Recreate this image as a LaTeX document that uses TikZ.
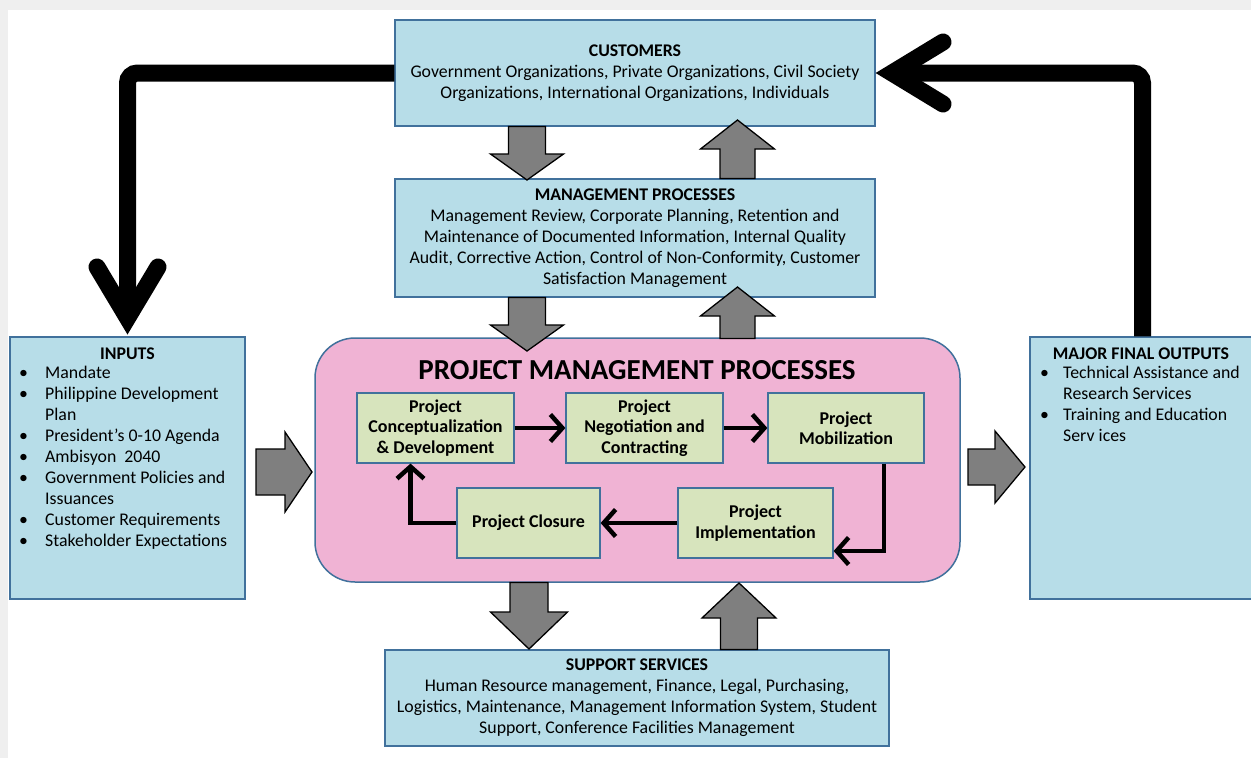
\documentclass[tikz,border=0pt]{standalone}
\usepackage{fontspec}
\setmainfont{Carlito}
\usetikzlibrary{arrows.meta}
\definecolor{boxblue}{HTML}{B7DDE8}
\definecolor{boxline}{HTML}{41719C}
\definecolor{pmpink}{HTML}{F0B3D4}
\definecolor{pgreen}{HTML}{D7E4BD}
\definecolor{agray}{HTML}{7F7F7F}
\definecolor{framegray}{HTML}{EFEFEF}
\newcommand\myvarrow[6]{\draw[garrow] (#1-#5,#2) -- (#1+#5,#2) -- (#1+#5,#3) -- (#1+#6,#3) -- (#1,#4) -- (#1-#6,#3) -- (#1-#5,#3) -- cycle;}
\newcommand\myharrow[6]{\draw[garrow] (#2,#1-#5) -- (#2,#1+#5) -- (#3,#1+#5) -- (#3,#1+#6) -- (#4,#1) -- (#3,#1-#6) -- (#3,#1-#5) -- cycle;}
\begin{document}
\begin{tikzpicture}[x=1pt,y=-1pt,
  bluebox/.style={draw=boxline, line width=1.5pt, fill=boxblue, inner sep=0pt},
  txt/.style={font=\fontsize{17.8}{21}\selectfont, align=center, inner sep=0pt},
  listtxt/.style={font=\fontsize{17.8}{21}\selectfont, align=left, inner sep=0pt},
  gbox/.style={draw=boxline, line width=1.2pt, fill=pgreen, minimum height=70pt, inner sep=0pt,
     font=\bfseries\fontsize{18}{20.5}\selectfont, align=center},
  garrow/.style={draw=black, line width=1.3pt, fill=agray, line join=miter},
  bigline/.style={line width=17pt, draw=black, rounded corners=10pt},
  bighead/.style={line width=17pt, draw=black, line cap=round, line join=miter},
  parrow/.style={line width=4.5pt, draw=black, -{Straight Barb[length=12pt,width=27pt]}}]
\useasboundingbox (0,0) rectangle (1251,758);
\clip (0,0) rectangle (1251,758);
\fill[framegray] (0,0) rectangle (1251,758);
\fill[white] (8,10) rectangle (1251,758);

% blue boxes
\node[bluebox, txt, minimum width=480pt, minimum height=106pt] (cust) at (635,73)
 {\textbf{CUSTOMERS}\\Government Organizations, Private Organizations, Civil Society\\Organizations, International Organizations, Individuals};
\node[bluebox, txt, minimum width=480pt, minimum height=118pt] (mgmt) at (635,238)
 {\textbf{MANAGEMENT PROCESSES}\\Management Review, Corporate Planning, Retention and\\Maintenance of Documented Information, Internal Quality\\Audit, Corrective Action, Control of Non-Conformity, Customer\\Satisfaction Management};
\node[bluebox, txt, minimum width=504pt, minimum height=96pt] (supp) at (637,698)
 {\textbf{SUPPORT SERVICES}\\Human Resource management, Finance, Legal, Purchasing,\\Logistics, Maintenance, Management Information System, Student\\Support, Conference Facilities Management};
\node[bluebox, minimum width=235pt, minimum height=262pt] (inputs) at (127.5,468) {};
\node[bluebox, minimum width=225pt, minimum height=262pt] (outs) at (1142.5,468) {};

\node[txt, font=\bfseries\fontsize{17.8}{21}\selectfont] (intitle) at (127.5,354) {INPUTS};
\node[listtxt, anchor=north west] (inlist) at (19,366) {%
\makebox[26pt][l]{\textbullet}Mandate\\
\makebox[26pt][l]{\textbullet}Philippine Development\\
\hspace*{26pt}Plan\\
\makebox[26pt][l]{\textbullet}President’s 0-10 Agenda\\
\makebox[26pt][l]{\textbullet}Ambisyon\ \ 2040\\
\makebox[26pt][l]{\textbullet}Government Policies and\\
\hspace*{26pt}Issuances\\
\makebox[26pt][l]{\textbullet}Customer Requirements\\
\makebox[26pt][l]{\textbullet}Stakeholder Expectations};

\node[txt, font=\bfseries\fontsize{17.8}{21}\selectfont] (outtitle) at (1141,354) {MAJOR FINAL OUTPUTS};
\node[listtxt, anchor=north west] (outlist) at (1040,366) {%
\makebox[23pt][l]{\textbullet}Technical Assistance and\\
\hspace*{23pt}Research Services\\
\makebox[23pt][l]{\textbullet}Training and Education\\
\hspace*{23pt}Serv ices};

% project management processes
\node[draw=boxline, line width=1.5pt, fill=pmpink, rounded corners=40pt,
  minimum width=645pt, minimum height=244pt] (pmp) at (637.5,460) {};
\node[font=\bfseries\fontsize{29}{32}\selectfont, inner sep=0pt] (pmptitle) at (637,370) {PROJECT MANAGEMENT PROCESSES};

\node[gbox, minimum width=157pt] (concept) at (435.5,428) {Project\\Conceptualization\\\& Development};
\node[gbox, minimum width=157pt] (neg) at (644.5,428) {Project\\Negotiation and\\Contracting};
\node[gbox, minimum width=156pt] (mob) at (846,428) {Project\\Mobilization};
\node[gbox, minimum width=143pt] (closure) at (528.5,523) {Project Closure};
\node[gbox, minimum width=155pt] (impl) at (755.5,523) {Project\\Implementation};

\draw[parrow] (concept.east) -- (neg.west);
\draw[parrow] (neg.east) -- (mob.west);
\draw[parrow] ([xshift=38pt]mob.south) |- ([yshift=-28pt]impl.east);
\draw[parrow] (impl.west) -- (closure.east);
\draw[parrow] (closure.west) -| ([xshift=-25pt]concept.south);

% gray block arrows
\myvarrow{527}{126.5}{154}{180}{18.5}{36.5}
\myvarrow{737.5}{178.5}{149}{120}{17.5}{37}
\myvarrow{527}{297.5}{325}{351}{18.5}{36.5}
\myvarrow{737.5}{338.5}{316}{287}{17.5}{37}
\myvarrow{529}{582.5}{612}{649}{19}{38.5}
\myvarrow{739}{649.5}{618}{583}{18.5}{37}
\myharrow{472}{256}{285}{312}{23}{40}
\myharrow{467}{968}{995}{1025}{18}{36}

% big black loop arrows
\draw[bigline, shorten >=19pt] (cust.west) -| (inputs.north);
\draw[bighead] (97,267) -- (127.5,318) -- (158,267);
\draw[bigline, shorten >=17pt] (outs.north) |- (cust.east);
\draw[bighead] (943,42) -- (892,73) -- (943,104);
\end{tikzpicture}
\end{document}
